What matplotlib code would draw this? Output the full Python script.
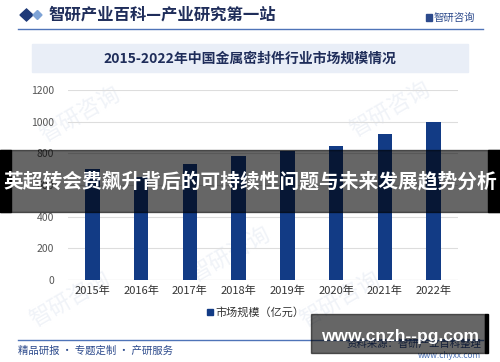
import matplotlib.pyplot as plt
from matplotlib.patches import Rectangle, Polygon

plt.rcParams['font.family'] = ['Noto Sans CJK SC', 'DejaVu Sans']

# 数据
years = ["2015年", "2016年", "2017年", "2018年", "2019年", "2020年", "2021年", "2022年"]
market_size = [700, 650, 733, 785, 815, 848, 922, 995]
y_ticks = [0, 200, 400, 600, 800, 1000, 1200]

header_text = "智研产业百科—产业研究第一站"
title_text = "2015-2022年中国金属密封件行业市场规模情况"
legend_label = "市场规模（亿元）"
banner_text = "英超转会费飙升背后的可持续性问题与未来发展趋势分析"
footer_text = "精品研报 · 专题定制 · 产研服务"
source_text = "资料来源：智研产业百科整理"
site_text = "www.chyxx.com"
mark_text = "www.cnzh--pg.com"

W, H = 500, 362
navy = "#123b85"


def fx(x):
    return x / W


def fy(y):
    return 1 - y / H


fig = plt.figure(figsize=(W / 100, H / 100), dpi=100)
fig.patch.set_facecolor("white")

# 背景水印（很淡，放在图表下面）
for (x, y) in [(80, 115), (230, 255), (390, 110), (70, 300), (340, 300)]:
    fig.text(fx(x), fy(y), "智研咨询", fontsize=16, color="#f0f3f8",
             rotation=30, ha="center", va="center", zorder=0)

# 图表
ax = fig.add_axes([fx(68), fy(280), fx(458) - fx(68), fy(90) - fy(280)])
ax.set_zorder(1)
ax.set_facecolor("none")
x = range(len(years))
ax.bar(x, market_size, width=0.3, color=navy, zorder=3)
ax.set_xlim(-0.5, len(years) - 0.5)
ax.set_ylim(0, 1200)
ax.set_yticks(y_ticks)
ax.set_xticks(list(x))
ax.set_xticklabels(years, fontsize=8, color="#333333")
ax.tick_params(axis="y", labelsize=7.5, labelcolor="#555555", length=0, pad=10)
ax.tick_params(axis="x", length=0, pad=4)
ax.grid(axis="y", color="#dddddd", linewidth=0.8, zorder=0)
for s in ax.spines.values():
    s.set_visible(False)
ax.axhline(0, color="#d0d0d0", linewidth=0.8, zorder=1)

# 图例
fig.patches.append(Rectangle((fx(207), fy(315)), 6 / W, 6 / H, color=navy,
                             transform=fig.transFigure, figure=fig, zorder=2))
fig.text(fx(215), fy(312), legend_label, fontsize=8, color="#333333", va="center", zorder=2)

# 页眉
fig.patches.append(Polygon([(fx(20), fy(15)), (fx(26.5), fy(9)), (fx(33), fy(15)), (fx(26.5), fy(21))],
                           closed=True, color="#1f3a78", transform=fig.transFigure, figure=fig))
fig.patches.append(Polygon([(fx(33), fy(15)), (fx(37.5), fy(10.5)), (fx(42), fy(15)), (fx(37.5), fy(19.5))],
                           closed=True, color="#7ea3d6", transform=fig.transFigure, figure=fig))
fig.text(fx(48), fy(15), header_text, fontsize=11.8, fontweight="bold", color="#1f2d5a", va="center", zorder=2)
fig.patches.append(Rectangle((fx(426), fy(21)), 6 / W, 7 / H, color="#2c4a8c",
                             transform=fig.transFigure, figure=fig))
fig.text(fx(434), fy(17.5), "智研咨询", fontsize=7.5, color="#2c4a8c", va="center", zorder=2)
fig.add_artist(plt.Line2D([fx(18), fx(483)], [fy(29), fy(29)], color="#4f74b8", linewidth=1))

# 标题
fig.patches.append(Rectangle((fx(32), fy(72)), (468 - 32) / W, 28 / H, color="#e9eef7",
                             transform=fig.transFigure, figure=fig, zorder=0.5))
fig.text(fx(250), fy(59), title_text, fontsize=10, fontweight="bold", color="#1f2d5a",
         ha="center", va="center", zorder=2)

# 页脚
fig.add_artist(plt.Line2D([fx(18), fx(483)], [fy(340), fy(340)], color="#4f74b8", linewidth=1))
fig.text(fx(18), fy(351), footer_text, fontsize=7.5, color="#2c4a8c", va="center", zorder=2)
fig.text(fx(481), fy(344), source_text, fontsize=7.5, color="#2c4a8c", ha="right", va="center", zorder=2)
fig.text(fx(481), fy(356), site_text, fontsize=6, color="#4f74b8", ha="right", va="center", zorder=2)

# 横幅遮罩
fig.patches.append(Rectangle((0, fy(212)), 1, 62 / H, color="black", alpha=0.6,
                             transform=fig.transFigure, figure=fig, zorder=5))
fig.patches.append(Rectangle((0, fy(212)), 11 / W, 62 / H, color="black",
                             transform=fig.transFigure, figure=fig, zorder=5))
fig.patches.append(Rectangle((fx(488), fy(212)), 12 / W, 62 / H, color="black",
                             transform=fig.transFigure, figure=fig, zorder=5))
fig.text(0.5, fy(181), banner_text, fontsize=14.2, fontweight="bold", color="white",
         ha="center", va="center", zorder=6)

# 网址水印框
fig.patches.append(Rectangle((fx(311), fy(353)), (485 - 311) / W, 39 / H, color="black", alpha=0.6,
                             transform=fig.transFigure, figure=fig, zorder=5))
fig.patches.append(Rectangle((fx(485), fy(353)), 3 / W, 39 / H, color="black",
                             transform=fig.transFigure, figure=fig, zorder=5))
fig.text(fx(400), fy(336), mark_text, fontsize=12.5, fontweight="bold", color="white",
         ha="center", va="center", zorder=6, family=["Liberation Sans"])

fig.savefig("out.png", dpi=100)
